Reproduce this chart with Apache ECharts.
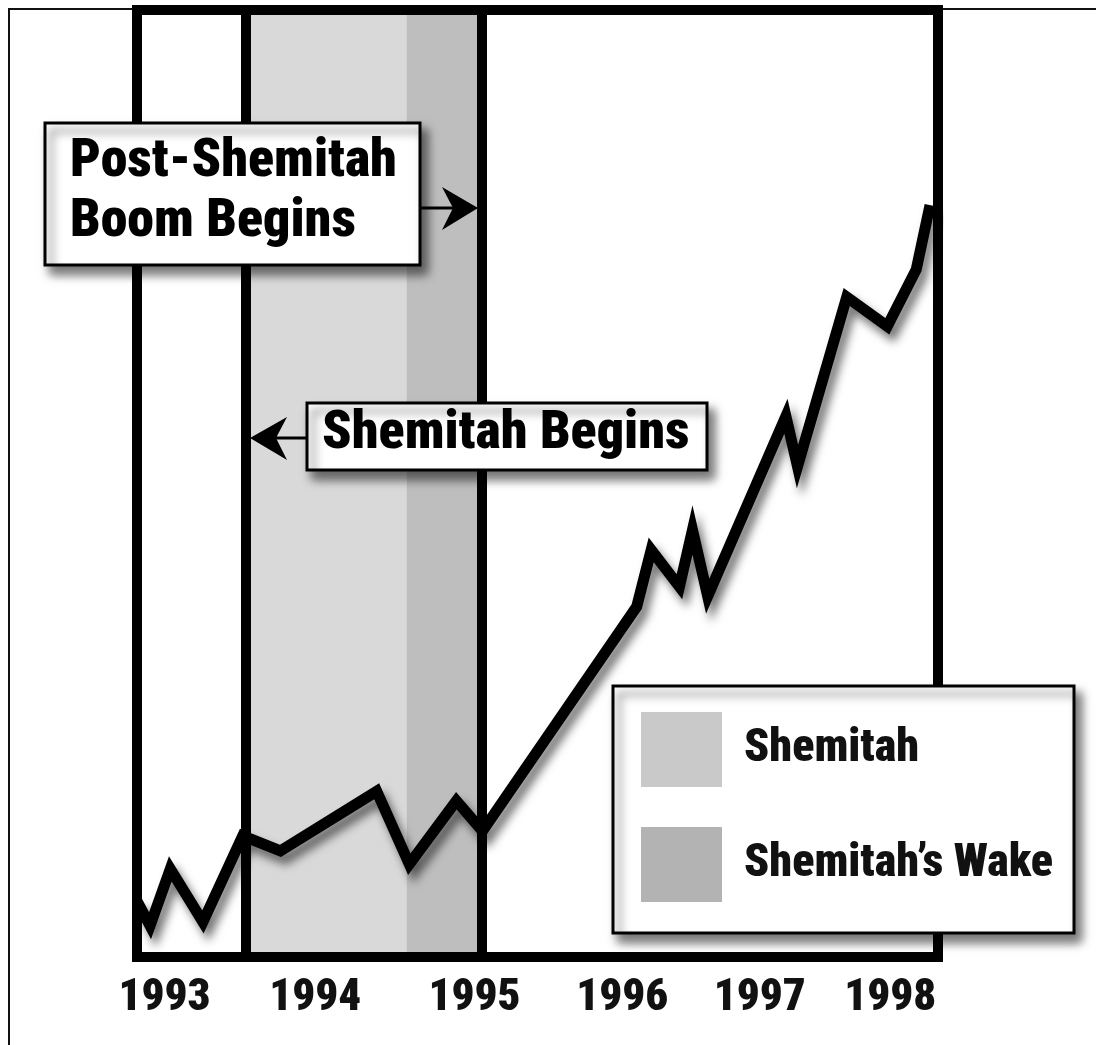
<!DOCTYPE html>
<html>
<head>
<meta charset="utf-8">
<title>Post-Shemitah Boom</title>
<script src="https://cdn.jsdelivr.net/npm/echarts@6/dist/echarts.min.js"></script>
<style>
  html, body { margin: 0; padding: 0; background: #fff; }
  #chart { width: 1096px; height: 1045px; }
</style>
</head>
<body>
<div id="chart"></div>
<script>
// x = decimal year, y = unlabelled index (0-100)
const years = [1992.80, 1992.89, 1993.03, 1993.255, 1993.53, 1993.79, 1994.455, 1994.68, 1995.005, 1995.185,
  1996.25, 1996.35, 1996.545, 1996.635, 1996.74, 1997.28, 1997.36, 1997.70, 1997.98, 1998.18, 1998.275]
const values = [5.9, 3.3, 9.3, 3.7, 12.8, 11.2, 17.5, 9.8, 16.5, 13.3,
  37.0, 43.0, 39.1, 45.1, 38.1, 57.1, 51.8, 69.7, 66.6, 72.6, 79.4]

const yearLabels = ['1993', '1994', '1995', '1996', '1997', '1998']
const labelPositions = [1992.99, 1994.03, 1995.13, 1996.15, 1997.10, 1998.0]

const shemitahStart = 1993.545
const wakeStart = 1994.66
const boomStart = 1995.18
const xMin = 1992.8
const xMax = 1998.33

const FONT = '"Roboto Condensed", "Open Sans", sans-serif'

const chart = echarts.init(document.getElementById('chart'))

// 粗黑边框
const frameLine = {
  show: true,
  onZero: false,
  lineStyle: { color: '#000', width: 10, cap: 'square' }
}

const boxStyle = {
  fill: '#fff',
  stroke: '#000',
  lineWidth: 3,
  shadowColor: 'rgba(0, 0, 0, 0.55)',
  shadowBlur: 10,
  shadowOffsetX: 6,
  shadowOffsetY: 8
}

const bigText = (text, x, y) => ({
  type: 'text',
  x: x,
  y: y,
  z: 11,
  style: {
    text: text,
    fontFamily: FONT,
    fontWeight: 900,
    fontSize: 54,
    fill: '#000',
    verticalAlign: 'middle'
  }
})

const option = {
  animation: false,
  backgroundColor: '#fff',
  grid: {
    left: 137,
    top: 10,
    width: 801,
    height: 947,
    containLabel: false,
    outerBoundsMode: 'none'
  },
  legend: {
    data: [
      { name: 'Shemitah', icon: 'rect' },
      { name: 'Shemitah\u2019s Wake', icon: 'rect' }
    ],
    orient: 'vertical',
    left: 641,
    top: 712,
    itemWidth: 81,
    itemHeight: 75,
    itemGap: 40,
    padding: 0,
    selectedMode: false,
    z: 20,
    textStyle: {
      fontFamily: FONT,
      fontWeight: 900,
      fontSize: 46,
      color: '#111',
      padding: [0, 0, 0, 17]
    }
  },
  xAxis: [
    {
      type: 'value',
      position: 'bottom',
      min: xMin,
      max: xMax,
      z: 5,
      axisLine: frameLine,
      axisTick: { show: false },
      splitLine: { show: false },
      axisLabel: {
        customValues: labelPositions,
        formatter: (v) => {
          let best = 0
          labelPositions.forEach((p, i) => {
            if (Math.abs(p - v) < Math.abs(labelPositions[best] - v)) best = i
          })
          return yearLabels[best]
        },
        fontFamily: FONT,
        fontWeight: 900,
        fontSize: 45,
        color: '#111',
        margin: 19
      }
    },
    {
      type: 'value',
      position: 'top',
      min: xMin,
      max: xMax,
      z: 5,
      axisLine: frameLine,
      axisTick: { show: false },
      splitLine: { show: false },
      axisLabel: { show: false }
    }
  ],
  yAxis: [
    {
      type: 'value',
      position: 'left',
      min: 0,
      max: 100,
      z: 5,
      axisLine: frameLine,
      axisTick: { show: false },
      splitLine: { show: false },
      axisLabel: { show: false }
    },
    {
      type: 'value',
      position: 'right',
      min: 0,
      max: 100,
      z: 5,
      axisLine: frameLine,
      axisTick: { show: false },
      splitLine: { show: false },
      axisLabel: { show: false }
    }
  ],
  series: [
    {
      name: 'Shemitah',
      type: 'line',
      data: [],
      color: '#c9c9c9',
      z: 1,
      markArea: {
        silent: true,
        itemStyle: { color: '#d9d9d9' },
        data: [[{ xAxis: shemitahStart }, { xAxis: wakeStart }]]
      }
    },
    {
      name: 'Shemitah\u2019s Wake',
      type: 'line',
      data: [],
      color: '#b3b3b3',
      z: 1,
      markArea: {
        silent: true,
        itemStyle: { color: '#bebebe' },
        data: [[{ xAxis: wakeStart }, { xAxis: boomStart }]]
      }
    },
    {
      name: 'markers',
      type: 'line',
      data: [],
      z: 2,
      markLine: {
        silent: true,
        symbol: ['none', 'none'],
        label: { show: false },
        lineStyle: { color: '#000', width: 10, type: 'solid' },
        data: [{ xAxis: shemitahStart }, { xAxis: boomStart }]
      }
    },
    {
      name: 'index',
      type: 'line',
      data: years.map((x, i) => [x, values[i]]),
      symbol: 'none',
      z: 3,
      lineStyle: {
        color: '#000',
        width: 11,
        join: 'miter',
        shadowColor: 'rgba(0, 0, 0, 0.55)',
        shadowBlur: 10,
        shadowOffsetX: 5,
        shadowOffsetY: 8
      }
    }
  ],
  graphic: {
    elements: [
      // 外框细线
      {
        type: 'polyline',
        z: 0,
        shape: { points: [[9, 1045], [9, 9], [1096, 9]] },
        style: { stroke: '#111', lineWidth: 2, fill: null }
      },
      // Post-Shemitah 标注
      { type: 'rect', z: 10, shape: { x: 45, y: 123, width: 375, height: 142 }, style: boxStyle },
      bigText('Post-Shemitah', 70, 162),
      bigText('Boom Begins', 70, 222),
      { type: 'line', z: 10, shape: { x1: 420, y1: 208, x2: 455, y2: 208 }, style: { stroke: '#000', lineWidth: 3 } },
      { type: 'polygon', z: 10, shape: { points: [[478, 208], [442, 187], [453, 208], [442, 230]] }, style: { fill: '#000' } },
      // Shemitah Begins 标注
      { type: 'rect', z: 10, shape: { x: 307, y: 403, width: 400, height: 67 }, style: boxStyle },
      bigText('Shemitah Begins', 322, 434),
      { type: 'line', z: 10, shape: { x1: 307, y1: 438, x2: 272, y2: 438 }, style: { stroke: '#000', lineWidth: 3 } },
      { type: 'polygon', z: 10, shape: { points: [[250, 438], [287, 417], [276, 438], [287, 460]] }, style: { fill: '#000' } },
      // 图例框
      { type: 'rect', z: 10, shape: { x: 613, y: 686, width: 461, height: 247 }, style: boxStyle }
    ]
  }
}

chart.setOption(option)
</script>
</body>
</html>
